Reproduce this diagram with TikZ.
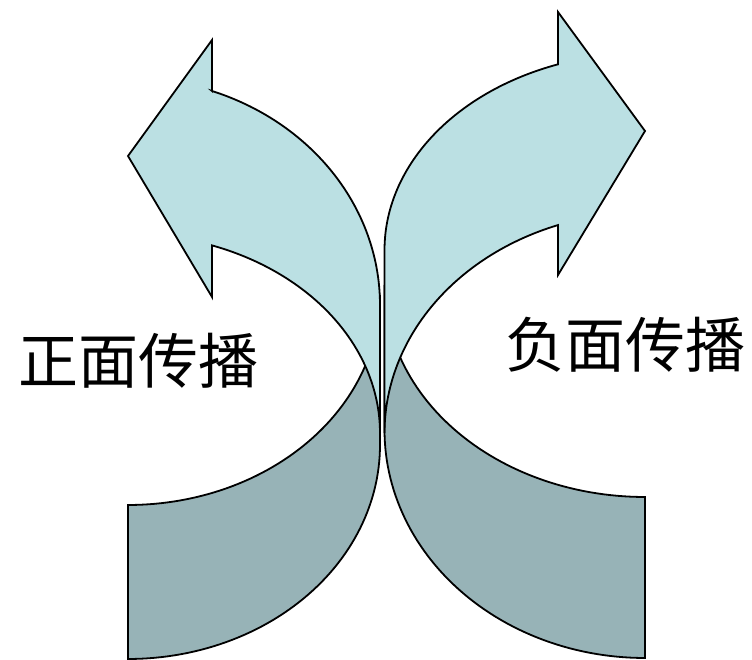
\documentclass[tikz,border=0pt]{standalone}
\usepackage{fontspec}
\newfontfamily\cjk{Noto Sans CJK SC}
\definecolor{lightarrow}{RGB}{187,224,227}
\definecolor{darkarrow}{RGB}{151,179,183}
\begin{document}
\begin{tikzpicture}[x=1pt,y=-1pt,
  shapeline/.style={draw=black,line width=1.8pt,line join=miter},
  lightpart/.style={shapeline,fill=lightarrow},
  darkpart/.style={shapeline,fill=darkarrow},
  cjklabel/.style={font=\cjk\fontsize{60}{60}\selectfont,inner sep=0pt}]
\useasboundingbox (0,0) rectangle (752,660);
% ---- left arrow: back (dark) part
\draw[darkpart] (128,659)
  -- plot[domain=90:0,samples=60,variable=\t] ({128+252*cos(\t)},{445+214*sin(\t)})
  -- (380,295)
  -- plot[domain=0:90,samples=60,variable=\t] ({128+252*cos(\t)},{295+210*sin(\t)})
  -- cycle;
% ---- left arrow: front (light) part with head
\draw[lightpart] (212,91)
  -- plot[domain=70.53:0,samples=60,variable=\t] ({128+252*cos(\t)},{305-227*sin(\t)})
  -- (380,433)
  -- plot[domain=0:70.53,samples=60,variable=\t] ({128+252*cos(\t)},{433-199*sin(\t)})
  -- (212,297) -- (128,156) -- (212,40) -- cycle;
% ---- right arrow: back (dark) part
\draw[darkpart] (645,658)
  -- plot[domain=90:0,samples=60,variable=\t] ({645-260.5*cos(\t)},{430+228*sin(\t)})
  -- (384.5,285)
  -- plot[domain=0:90,samples=60,variable=\t] ({645-260.5*cos(\t)},{285+212*sin(\t)})
  -- cycle;
% ---- right arrow: front (light) part with head
\draw[lightpart] (558,64)
  -- plot[domain=70.49:0,samples=60,variable=\t] ({645-260.5*cos(\t)},{250-197*sin(\t)})
  -- (384.5,433)
  -- plot[domain=0:70.49,samples=60,variable=\t] ({645-260.5*cos(\t)},{433-220.6*sin(\t)})
  -- (558,275) -- (645,131) -- (558,12) -- cycle;
% ---- labels
\node[cjklabel] (pos) at (138,361) {正面传播};
\node[cjklabel] (neg) at (625,345) {负面传播};
\end{tikzpicture}
\end{document}
